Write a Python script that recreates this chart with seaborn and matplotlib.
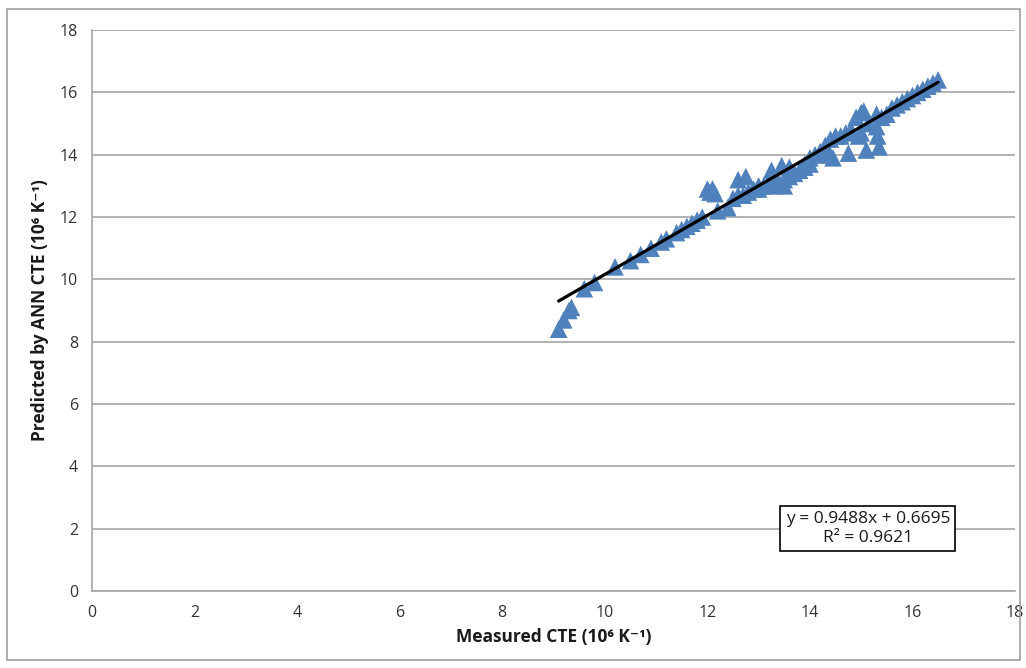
import numpy as np
import pandas as pd
import seaborn as sns
import matplotlib.pyplot as plt
from matplotlib.patches import Rectangle

# measured vs predicted CTE
measured = [9.1, 9.2, 9.3, 9.35, 9.6, 9.8, 10.2, 10.5, 10.7, 10.9, 11.1, 11.2, 11.4,
            11.5, 11.6, 11.7, 11.8, 11.9, 12.0, 12.05, 12.1, 12.15, 12.2, 12.4, 12.5,
            12.6, 12.6, 12.75, 12.7, 12.8, 12.9, 13.0, 13.1, 13.2, 13.25, 13.3, 13.4,
            13.45, 13.5, 13.6, 13.5, 13.6, 13.7, 13.8, 13.9, 14.0, 14.1, 14.0, 14.2,
            14.3, 14.35, 14.4, 14.45, 14.5, 14.6, 14.7, 14.75, 14.8, 14.9, 14.95, 15.0,
            15.05, 15.0, 15.1, 15.15, 15.3, 15.3, 15.32, 15.35, 15.4, 15.5, 15.6, 15.7,
            15.8, 15.9, 16.0, 16.1, 16.2, 16.3, 16.4, 16.5, 13.0, 13.3, 13.9, 14.2]
predicted = [8.4, 8.7, 9.0, 9.1, 9.7, 9.9, 10.4, 10.6, 10.8, 11.0, 11.2, 11.3, 11.5,
             11.6, 11.7, 11.8, 11.9, 12.0, 12.9, 12.8, 12.9, 12.75, 12.2, 12.3, 12.6,
             12.7, 13.2, 13.3, 12.7, 12.8, 12.9, 13.0, 13.0, 13.1, 13.5, 13.0, 13.1,
             13.65, 13.2, 13.6, 13.0, 13.3, 13.4, 13.5, 13.7, 13.9, 14.0, 13.7, 14.1,
             14.3, 14.0, 14.5, 13.9, 14.6, 14.6, 14.7, 14.05, 14.8, 15.2, 14.6, 15.35,
             15.4, 14.7, 14.15, 15.0, 15.3, 14.9, 14.6, 14.25, 15.2, 15.3, 15.5, 15.6,
             15.7, 15.8, 15.9, 16.0, 16.1, 16.2, 16.3, 16.4, 12.9, 13.2, 13.6, 14.0]

slope = 0.9488
intercept = 0.6695
r2 = 0.9621

df = pd.DataFrame({'Measured': measured, 'Predicted': predicted})

sns.set_style('white')
plt.rcParams['font.family'] = ['Open Sans', 'DejaVu Sans']

fig = plt.figure(figsize=(10.26, 6.68), dpi=100)
ax = fig.add_axes([0.0897, 0.1153, 0.8996, 0.8397])

sns.scatterplot(data=df, x='Measured', y='Predicted', marker='^', s=160,
                color='#4F81BD', edgecolor='none', ax=ax, zorder=3)

xfit = np.array([df['Measured'].min(), df['Measured'].max()])
sns.lineplot(x=xfit, y=slope * xfit + intercept, color='black', linewidth=2.3,
             ax=ax, zorder=4)

ax.set_xlim(0, 18)
ax.set_ylim(0, 18)
ax.set_xticks(range(0, 19, 2))
ax.set_yticks(range(0, 19, 2))
ax.yaxis.grid(True, color='#A6A6A6', linewidth=1.2)
ax.xaxis.grid(False)
ax.set_axisbelow(True)
for side in ['top', 'right']:
    ax.spines[side].set_visible(False)
for side in ['left', 'bottom']:
    ax.spines[side].set_color('#A6A6A6')
    ax.spines[side].set_linewidth(1.2)
ax.tick_params(axis='both', labelsize=11.5, length=0, pad=10, labelcolor='#333333')

ax.set_xlabel('Measured CTE (10⁶ K⁻¹)', fontsize=12.5, fontweight='bold',
              color='#1a1a1a', labelpad=5)
ax.set_ylabel('Predicted by ANN CTE (10⁶ K⁻¹)', fontsize=12.5, fontweight='bold',
              color='#1a1a1a', labelpad=8)

ax.text(15.13, 2.0, f'y = {slope}x + {intercept}\nR² = {r2}', ha='center', va='center',
        fontsize=12.5, linespacing=1.25, color='#1a1a1a',
        bbox=dict(boxstyle='square,pad=0.3', facecolor='white', edgecolor='black',
                  linewidth=1.2), zorder=5)

fig.patches.append(Rectangle((0.007, 0.012), 0.987, 0.974, transform=fig.transFigure,
                             fill=False, edgecolor='#A0A0A0', linewidth=1.2))

fig.savefig('out.png', dpi=100)
